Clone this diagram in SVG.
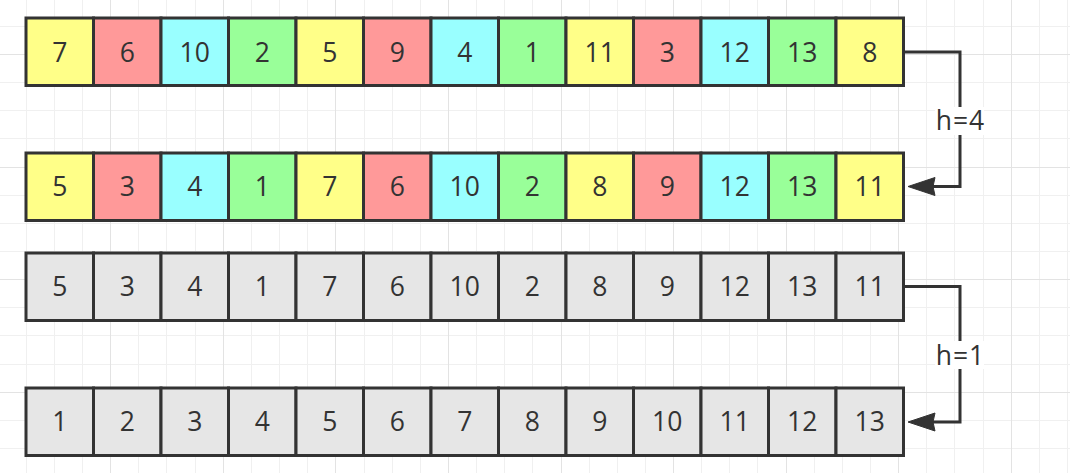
<svg xmlns="http://www.w3.org/2000/svg" width="1070" height="473" viewBox="0 0 1070 473">
<style>
.minor{stroke:#f0f0f0;stroke-width:1;fill:none}
.major{stroke:#e3e3e3;stroke-width:1;fill:none}
.cell rect{stroke:#333333;stroke-width:3}
.cell text,.lbl{font-family:"Open Sans","Noto Sans","Liberation Sans",sans-serif;font-size:26.5px;fill:#333333;text-anchor:middle}
.lbl{letter-spacing:1px}
.y{fill:#ffff88}.r{fill:#ff9999}.c{fill:#99ffff}.g{fill:#99ff99}.k{fill:#e6e6e6}
.conn{stroke:#333333;stroke-width:3;fill:none}
.head{fill:#333333;stroke:#333333;stroke-width:1}
</style>
<rect width="1070" height="473" fill="#ffffff"/>
<g id="grid">
<path class="minor" d="M26.5 0V473M54.5 0V473M82.5 0V473M138.5 0V473M166.5 0V473M195.5 0V473M251.5 0V473M279.5 0V473M307.5 0V473M364.5 0V473M392.5 0V473M420.5 0V473M476.5 0V473M504.5 0V473M532.5 0V473M589.5 0V473M617.5 0V473M645.5 0V473M701.5 0V473M729.5 0V473M757.5 0V473M814.5 0V473M842.5 0V473M870.5 0V473M926.5 0V473M954.5 0V473M983.5 0V473M1039.5 0V473M1067.5 0V473M0 26.5H1070M0 82.5H1070M0 110.5H1070M0 138.5H1070M0 195.5H1070M0 223.5H1070M0 251.5H1070M0 307.5H1070M0 335.5H1070M0 364.5H1070M0 420.5H1070M0 448.5H1070"/>
<path class="major" d="M110.5 0V473M223.5 0V473M335.5 0V473M448.5 0V473M561.5 0V473M673.5 0V473M786.5 0V473M898.5 0V473M1011.5 0V473M0 54.5H1070M0 167.5H1070M0 279.5H1070M0 392.5H1070"/>
</g>
<g id="row1">
<g id="r1c1" class="cell"><rect class="y" x="26" y="18" width="67.5" height="67.5"/><text x="59.75" y="61.5">7</text></g>
<g id="r1c2" class="cell"><rect class="r" x="93.5" y="18" width="67.5" height="67.5"/><text x="127.25" y="61.5">6</text></g>
<g id="r1c3" class="cell"><rect class="c" x="161" y="18" width="67.5" height="67.5"/><text x="194.75" y="61.5">10</text></g>
<g id="r1c4" class="cell"><rect class="g" x="228.5" y="18" width="67.5" height="67.5"/><text x="262.25" y="61.5">2</text></g>
<g id="r1c5" class="cell"><rect class="y" x="296" y="18" width="67.5" height="67.5"/><text x="329.75" y="61.5">5</text></g>
<g id="r1c6" class="cell"><rect class="r" x="363.5" y="18" width="67.5" height="67.5"/><text x="397.25" y="61.5">9</text></g>
<g id="r1c7" class="cell"><rect class="c" x="431" y="18" width="67.5" height="67.5"/><text x="464.75" y="61.5">4</text></g>
<g id="r1c8" class="cell"><rect class="g" x="498.5" y="18" width="67.5" height="67.5"/><text x="532.25" y="61.5">1</text></g>
<g id="r1c9" class="cell"><rect class="y" x="566" y="18" width="67.5" height="67.5"/><text x="599.75" y="61.5">11</text></g>
<g id="r1c10" class="cell"><rect class="r" x="633.5" y="18" width="67.5" height="67.5"/><text x="667.25" y="61.5">3</text></g>
<g id="r1c11" class="cell"><rect class="c" x="701" y="18" width="67.5" height="67.5"/><text x="734.75" y="61.5">12</text></g>
<g id="r1c12" class="cell"><rect class="g" x="768.5" y="18" width="67.5" height="67.5"/><text x="802.25" y="61.5">13</text></g>
<g id="r1c13" class="cell"><rect class="y" x="836" y="18" width="67.5" height="67.5"/><text x="869.75" y="61.5">8</text></g>
</g>
<g id="row2">
<g id="r2c1" class="cell"><rect class="y" x="26" y="153" width="67.5" height="67.5"/><text x="59.75" y="196.3">5</text></g>
<g id="r2c2" class="cell"><rect class="r" x="93.5" y="153" width="67.5" height="67.5"/><text x="127.25" y="196.3">3</text></g>
<g id="r2c3" class="cell"><rect class="c" x="161" y="153" width="67.5" height="67.5"/><text x="194.75" y="196.3">4</text></g>
<g id="r2c4" class="cell"><rect class="g" x="228.5" y="153" width="67.5" height="67.5"/><text x="262.25" y="196.3">1</text></g>
<g id="r2c5" class="cell"><rect class="y" x="296" y="153" width="67.5" height="67.5"/><text x="329.75" y="196.3">7</text></g>
<g id="r2c6" class="cell"><rect class="r" x="363.5" y="153" width="67.5" height="67.5"/><text x="397.25" y="196.3">6</text></g>
<g id="r2c7" class="cell"><rect class="c" x="431" y="153" width="67.5" height="67.5"/><text x="464.75" y="196.3">10</text></g>
<g id="r2c8" class="cell"><rect class="g" x="498.5" y="153" width="67.5" height="67.5"/><text x="532.25" y="196.3">2</text></g>
<g id="r2c9" class="cell"><rect class="y" x="566" y="153" width="67.5" height="67.5"/><text x="599.75" y="196.3">8</text></g>
<g id="r2c10" class="cell"><rect class="r" x="633.5" y="153" width="67.5" height="67.5"/><text x="667.25" y="196.3">9</text></g>
<g id="r2c11" class="cell"><rect class="c" x="701" y="153" width="67.5" height="67.5"/><text x="734.75" y="196.3">12</text></g>
<g id="r2c12" class="cell"><rect class="g" x="768.5" y="153" width="67.5" height="67.5"/><text x="802.25" y="196.3">13</text></g>
<g id="r2c13" class="cell"><rect class="y" x="836" y="153" width="67.5" height="67.5"/><text x="869.75" y="196.3">11</text></g>
</g>
<g id="row3">
<g id="r3c1" class="cell"><rect class="k" x="26" y="253" width="67.5" height="67.5"/><text x="59.75" y="296.3">5</text></g>
<g id="r3c2" class="cell"><rect class="k" x="93.5" y="253" width="67.5" height="67.5"/><text x="127.25" y="296.3">3</text></g>
<g id="r3c3" class="cell"><rect class="k" x="161" y="253" width="67.5" height="67.5"/><text x="194.75" y="296.3">4</text></g>
<g id="r3c4" class="cell"><rect class="k" x="228.5" y="253" width="67.5" height="67.5"/><text x="262.25" y="296.3">1</text></g>
<g id="r3c5" class="cell"><rect class="k" x="296" y="253" width="67.5" height="67.5"/><text x="329.75" y="296.3">7</text></g>
<g id="r3c6" class="cell"><rect class="k" x="363.5" y="253" width="67.5" height="67.5"/><text x="397.25" y="296.3">6</text></g>
<g id="r3c7" class="cell"><rect class="k" x="431" y="253" width="67.5" height="67.5"/><text x="464.75" y="296.3">10</text></g>
<g id="r3c8" class="cell"><rect class="k" x="498.5" y="253" width="67.5" height="67.5"/><text x="532.25" y="296.3">2</text></g>
<g id="r3c9" class="cell"><rect class="k" x="566" y="253" width="67.5" height="67.5"/><text x="599.75" y="296.3">8</text></g>
<g id="r3c10" class="cell"><rect class="k" x="633.5" y="253" width="67.5" height="67.5"/><text x="667.25" y="296.3">9</text></g>
<g id="r3c11" class="cell"><rect class="k" x="701" y="253" width="67.5" height="67.5"/><text x="734.75" y="296.3">12</text></g>
<g id="r3c12" class="cell"><rect class="k" x="768.5" y="253" width="67.5" height="67.5"/><text x="802.25" y="296.3">13</text></g>
<g id="r3c13" class="cell"><rect class="k" x="836" y="253" width="67.5" height="67.5"/><text x="869.75" y="296.3">11</text></g>
</g>
<g id="row4">
<g id="r4c1" class="cell"><rect class="k" x="26" y="388" width="67.5" height="67.5"/><text x="59.75" y="431.3">1</text></g>
<g id="r4c2" class="cell"><rect class="k" x="93.5" y="388" width="67.5" height="67.5"/><text x="127.25" y="431.3">2</text></g>
<g id="r4c3" class="cell"><rect class="k" x="161" y="388" width="67.5" height="67.5"/><text x="194.75" y="431.3">3</text></g>
<g id="r4c4" class="cell"><rect class="k" x="228.5" y="388" width="67.5" height="67.5"/><text x="262.25" y="431.3">4</text></g>
<g id="r4c5" class="cell"><rect class="k" x="296" y="388" width="67.5" height="67.5"/><text x="329.75" y="431.3">5</text></g>
<g id="r4c6" class="cell"><rect class="k" x="363.5" y="388" width="67.5" height="67.5"/><text x="397.25" y="431.3">6</text></g>
<g id="r4c7" class="cell"><rect class="k" x="431" y="388" width="67.5" height="67.5"/><text x="464.75" y="431.3">7</text></g>
<g id="r4c8" class="cell"><rect class="k" x="498.5" y="388" width="67.5" height="67.5"/><text x="532.25" y="431.3">8</text></g>
<g id="r4c9" class="cell"><rect class="k" x="566" y="388" width="67.5" height="67.5"/><text x="599.75" y="431.3">9</text></g>
<g id="r4c10" class="cell"><rect class="k" x="633.5" y="388" width="67.5" height="67.5"/><text x="667.25" y="431.3">10</text></g>
<g id="r4c11" class="cell"><rect class="k" x="701" y="388" width="67.5" height="67.5"/><text x="734.75" y="431.3">11</text></g>
<g id="r4c12" class="cell"><rect class="k" x="768.5" y="388" width="67.5" height="67.5"/><text x="802.25" y="431.3">12</text></g>
<g id="r4c13" class="cell"><rect class="k" x="836" y="388" width="67.5" height="67.5"/><text x="869.75" y="431.3">13</text></g>
</g>
<g id="connectors">
<path class="conn" d="M903.5 52H960V186.5H932"/>
<polygon class="head" points="908,186.5 935,177.5 933,186.5 935,195.5"/>
<rect x="935" y="107" width="49" height="28" fill="#ffffff"/>
<text class="lbl" x="960.5" y="130">h=4</text>
<path class="conn" d="M903.5 286.5H960V422H932"/>
<polygon class="head" points="908,422 935,413 933,422 935,431"/>
<rect x="935" y="341" width="49" height="28" fill="#ffffff"/>
<text class="lbl" x="960.5" y="364.5">h=1</text>
</g>
</svg>
